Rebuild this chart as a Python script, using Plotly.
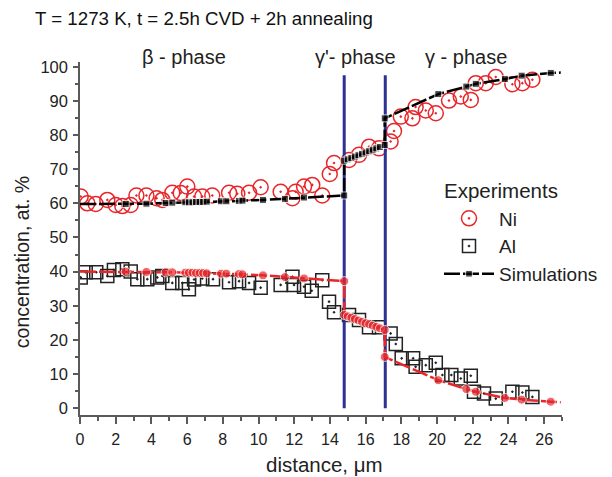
import plotly.graph_objects as go

ni_x = [0.04, 0.41, 0.88, 1.53, 2.0, 2.37, 2.84, 3.16, 3.72, 4.29, 4.61, 5.17, 5.64, 6.01, 6.39,
        6.85, 7.41, 8.35, 8.81, 9.47, 10.12, 11.24, 11.9, 12.08, 12.55, 13.01, 13.57, 13.99, 14.23,
        15.07, 15.63, 16.19, 16.75, 17.4, 17.59, 17.97, 18.62, 18.8, 19.37, 19.93, 20.67, 21.33,
        21.89, 22.17, 22.73, 23.29, 24.22, 24.78, 25.34]
ni_y = [62.0, 60.0, 59.8, 61.0, 59.5, 59.2, 59.5, 62.3, 62.3, 61.5, 61.0, 63.1, 63.0, 64.9, 62.0,
        62.0, 62.3, 63.1, 62.8, 63.1, 64.7, 63.4, 61.5, 63.4, 64.9, 65.4, 62.3, 68.6, 71.8,
        72.7, 74.2, 76.6, 76.1, 78.1, 81.2, 85.4, 84.9, 88.2, 87.2, 86.4, 90.1, 91.3,
        90.3, 95.2, 95.2, 97.0, 94.9, 95.2, 96.2]

al_x = [0.04, 0.32, 0.91, 1.53, 1.9, 2.37, 2.84, 3.21, 3.77, 4.33, 4.61, 5.17, 5.73, 6.1, 6.39,
        6.85, 7.45, 8.35, 8.91, 9.47, 10.12, 11.24, 11.9, 11.99, 12.55, 12.98, 13.57, 13.95, 14.23,
        15.07, 15.63, 16.19, 16.75, 17.4, 17.69, 18.02, 18.66, 18.8, 19.37, 19.93, 20.3, 20.8,
        21.33, 21.89, 22.07, 22.63, 23.29, 24.22, 24.78, 25.34]
al_y = [38.3, 39.8, 39.8, 38.7, 40.5, 40.7, 40.0, 37.8, 37.8, 38.3, 38.7, 36.7, 36.7, 34.8, 37.7,
        38.0, 37.8, 36.9, 37.2, 36.7, 35.3, 36.1, 38.5, 36.1, 35.6, 34.4, 37.5, 31.2, 28.1,
        27.3, 25.8, 23.7, 23.7, 21.9, 18.8, 14.6, 14.6, 12.1, 12.6, 13.3, 9.7, 9.7,
        8.7, 9.5, 4.8, 4.3, 2.8, 4.8, 4.6, 3.3]

# Simulations
sim_x = [0, 2.56, 3.72, 4.8, 5.17, 5.9, 6.1, 6.3, 6.5, 6.7, 6.9, 7.1, 7.9, 8.2, 8.9, 9.1,
         10.25, 11.48, 12.55, 14.8,
         14.8, 15.0, 15.2, 15.4, 15.6, 15.8, 16.0, 16.2, 16.4, 16.6, 16.8, 17.07,
         17.07, 20.07, 21.64, 22.17, 23.8, 24.74, 26.37, 26.93]
sim_ni = [59.8, 59.8, 59.9, 60.1, 60.2, 60.3, 60.3, 60.3, 60.4, 60.4, 60.4, 60.5, 60.6, 60.6, 60.7, 60.8,
          61.0, 61.3, 61.7, 62.3,
          72.5, 72.9, 73.3, 73.7, 74.1, 74.5, 74.9, 75.3, 75.7, 76.1, 76.5, 77.1,
          84.9, 92.0, 94.2, 95.0, 96.4, 97.4, 98.2, 98.3]
sim_al = [40.0, 40.0, 39.9, 39.8, 39.8, 39.7, 39.7, 39.7, 39.6, 39.6, 39.6, 39.5, 39.4, 39.4, 39.3, 39.2,
          38.9, 38.4, 38.0, 37.2,
          27.3, 26.9, 26.5, 26.1, 25.7, 25.3, 24.9, 24.6, 24.2, 23.8, 23.4, 22.9,
          15.0, 8.2, 5.6, 4.8, 3.0, 2.5, 1.9, 1.7]

# phase boundaries and labels
boundaries = [14.8, 17.1]
boundary_top = 97.5
phase_labels = ["β - phase", "γ'- phase", "γ - phase"]
phase_label_x = [5.8, 15.45, 21.6]

FONT = "Arial, Liberation Sans, sans-serif"
RED = "#e8262a"
BLUE = "#2e3192"
AXIS = "#5a5a5a"
W, H = 612, 477
pl, pr, pt, pb = 80, W - 50, 62, H - 62   # plot area in figure pixels


def to_paper(xpx, ypx):
    return (xpx - pl) / (pr - pl), (pb - ypx) / (pb - pt)


fig = go.Figure()

# marker sizes: no marker at the line ends
sizes_sq = [0] + [7] * (len(sim_x) - 2) + [0]
sizes_ci = [0] + [9] * (len(sim_x) - 2) + [0]

fig.add_trace(go.Scatter(x=ni_x, y=ni_y, mode='markers', name='Ni',
                         marker=dict(symbol='circle-open-dot', size=15, color=RED, line=dict(width=1.5))))
fig.add_trace(go.Scatter(x=al_x, y=al_y, mode='markers', name='Al',
                         marker=dict(symbol='square-open-dot', size=13, color='#222222', line=dict(width=1.5))))

# blue phase boundary lines
bx, by = [], []
for b in boundaries:
    bx += [b, b, None]
    by += [0, boundary_top, None]
fig.add_trace(go.Scatter(x=bx, y=by, mode='lines', line=dict(color=BLUE, width=3),
                         showlegend=False, hoverinfo='skip'))

fig.add_trace(go.Scatter(x=sim_x, y=sim_al, mode='lines+markers', showlegend=False,
                         line=dict(color=RED, width=2.5, dash='16px,3px'),
                         marker=dict(symbol='circle', size=sizes_ci, color=RED)))
fig.add_trace(go.Scatter(x=sim_x, y=sim_ni, mode='lines+markers', name='Simulations',
                         line=dict(color='black', width=2.5, dash='16px,3px'),
                         marker=dict(symbol='square', size=sizes_sq, color='black')))

for txt, xp in zip(phase_labels, phase_label_x):
    fig.add_annotation(x=xp, y=1.013, xref='x', yref='paper', text=txt, showarrow=False,
                       yanchor='middle', font=dict(size=20, color='#222222', family=FONT))

lx, ly = to_paper(439, 199.5)
fig.update_layout(
    width=W, height=H,
    margin=dict(l=pl, r=W - pr, t=pt, b=H - pb, autoexpand=False),
    paper_bgcolor='white', plot_bgcolor='white',
    font=dict(family=FONT, color='#222222'),
    title=dict(text='T = 1273 K, t = 2.5h CVD + 2h annealing', x=35 / W, xanchor='left', xref='container',
               y=1 - 18 / H, yanchor='middle', font=dict(size=18.7, color='#111111')),
    legend=dict(x=lx, y=ly, xanchor='left', yanchor='top', bgcolor='rgba(0,0,0,0)',
                font=dict(size=19), itemwidth=50),
    showlegend=True,
)

hx, hy = to_paper(442, 190)
fig.add_annotation(x=hx, y=hy, xref='paper', yref='paper', text='Experiments', showarrow=False,
                   xanchor='left', yanchor='middle', font=dict(size=20.5, color='#222222', family=FONT))
tx, ty = to_paper(324.5, 464.5)
fig.add_annotation(x=tx, y=ty, xref='paper', yref='paper', text='distance, μm', showarrow=False,
                   xanchor='center', yanchor='middle', borderpad=0,
                   font=dict(size=20.5, color='#222222', family=FONT))
yx, yy = to_paper(21.7, 262.5)
fig.add_annotation(x=yx, y=yy, xref='paper', yref='paper', text='concentration, at. %', showarrow=False,
                   textangle=-90, xanchor='center', yanchor='middle', borderpad=0,
                   font=dict(size=19.5, color='#222222', family=FONT))

fig.update_xaxes(range=[0, 27], tickmode='linear', tick0=0, dtick=2, ticks='outside', ticklen=7,
                 tickwidth=1.5, tickcolor=AXIS, showline=True, linecolor=AXIS, linewidth=1.5,
                 showgrid=False, zeroline=False, tickfont=dict(size=16), ticklabelstandoff=2,
                 minor=dict(dtick=1, ticks='outside', ticklen=4, tickcolor=AXIS, tickwidth=1.5),
                 automargin=False)
fig.update_yaxes(range=[-2, 101.4], tickmode='linear', tick0=0, dtick=10, ticks='outside', ticklen=5,
                 tickwidth=1.5, tickcolor=AXIS, showline=True, linecolor=AXIS, linewidth=1.5,
                 showgrid=False, zeroline=False, tickfont=dict(size=16.5), ticklabelstandoff=2,
                 minor=dict(dtick=5, ticks='outside', ticklen=3, tickcolor=AXIS, tickwidth=1.5),
                 automargin=False)

fig.write_html("out.html", config={'displayModeBar': False},
               post_script="document.body.style.margin='0';")
